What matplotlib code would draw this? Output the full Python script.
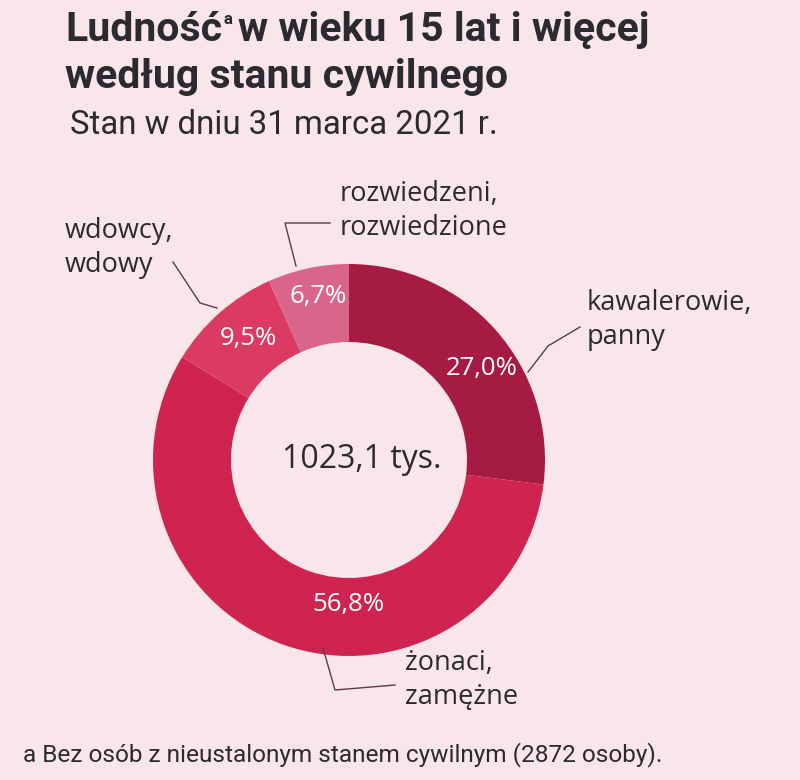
import matplotlib
matplotlib.use("Agg")
import matplotlib.pyplot as plt

# Data
categories = ["kawalerowie,\npanny", "żonaci,\nzamężne", "wdowcy,\nwdowy", "rozwiedzeni,\nrozwiedzione"]
shares = [27.0, 56.8, 9.5, 6.7]
pct_labels = ["27,0%", "56,8%", "9,5%", "6,7%"]
total_label = "1023,1 tys."
colors = ["#a51b42", "#cf2450", "#db3a62", "#d9668a"]

bg = "#f8e6ea"
dark = "#2b2a30"
line_col = "#5b3a46"

W, H = 800, 780
fig = plt.figure(figsize=(W / 100, H / 100), dpi=100, facecolor=bg)
ax = fig.add_axes([0, 0, 1, 1])
ax.set_xlim(0, W)
ax.set_ylim(0, H)
ax.set_aspect("equal")
ax.axis("off")
renderer = fig.canvas.get_renderer()


def Y(y):
    return H - y


def fit_text(x, y, s, target_w, size, **kw):
    # draw text and rescale its font so it spans target_w pixels
    t = ax.text(x, y, s, fontsize=size, **kw)
    w = t.get_window_extent(renderer).width
    t.set_fontsize(size * target_w / w)
    return t


cx, cy, r_out, width = 349, 460, 196, 78

wedges, _ = ax.pie(shares, colors=colors, startangle=90, counterclock=False,
                   center=(cx, Y(cy)), radius=r_out,
                   wedgeprops=dict(width=width, linewidth=0))
ax.set_xlim(0, W)
ax.set_ylim(0, H)

cond = ["Roboto", "DejaVu Sans"]
body = ["Open Sans", "DejaVu Sans"]

# title
t1 = ax.text(65, Y(41), "Ludność", fontsize=29.5, fontweight="bold", family=cond, color=dark, va="baseline")
x1 = t1.get_window_extent(renderer).x1
ax.text(x1 + 1, Y(24), "a", fontsize=12, fontweight="bold", family=cond, color=dark, va="baseline")
ax.text(x1 + 16, Y(41), "w wieku 15 lat i więcej", fontsize=29.5, fontweight="bold", family=cond,
        color=dark, va="baseline")
ax.text(65, Y(88), "według stanu cywilnego", fontsize=29.5, fontweight="bold", family=cond, color=dark,
        va="baseline")
fit_text(70, Y(134), "Stan w dniu 31 marca 2021 r.", 427, 20, family=cond, color=dark, va="baseline")

# percentages
pct_pos = [(482, 368), (348, 605), (248, 339), (318, 296)]
for (px, py), lab in zip(pct_pos, pct_labels):
    ax.text(px, Y(py), lab, fontsize=18.5, family=body, color="white", ha="center", va="center")

ax.text(362, Y(460), total_label, fontsize=23, family=body, color=dark, ha="center", va="center")

# outer labels and leader lines
label_pos = [(587, 320), (405, 680), (65, 248), (340, 211)]
leaders = [
    [(528, 372), (548, 346), (580, 327)],
    [(323, 648), (335, 690), (395, 685)],
    [(217, 308), (200, 303), (173, 262)],
    [(296, 266), (285, 223), (330, 223)],
]
for (lx, ly), lab, pts in zip(label_pos, categories, leaders):
    ax.text(lx, Y(ly), lab, fontsize=19.5, family=body, color=dark, ha="left", va="center", linespacing=1.25)
    ax.plot([p[0] for p in pts], [Y(p[1]) for p in pts], color=line_col, lw=1)

fit_text(23, Y(755), "a Bez osób z nieustalonym stanem cywilnym (2872 osoby).", 642, 15,
         family=cond, color=dark, va="center")

fig.savefig("out.png", dpi=100, facecolor=bg)
